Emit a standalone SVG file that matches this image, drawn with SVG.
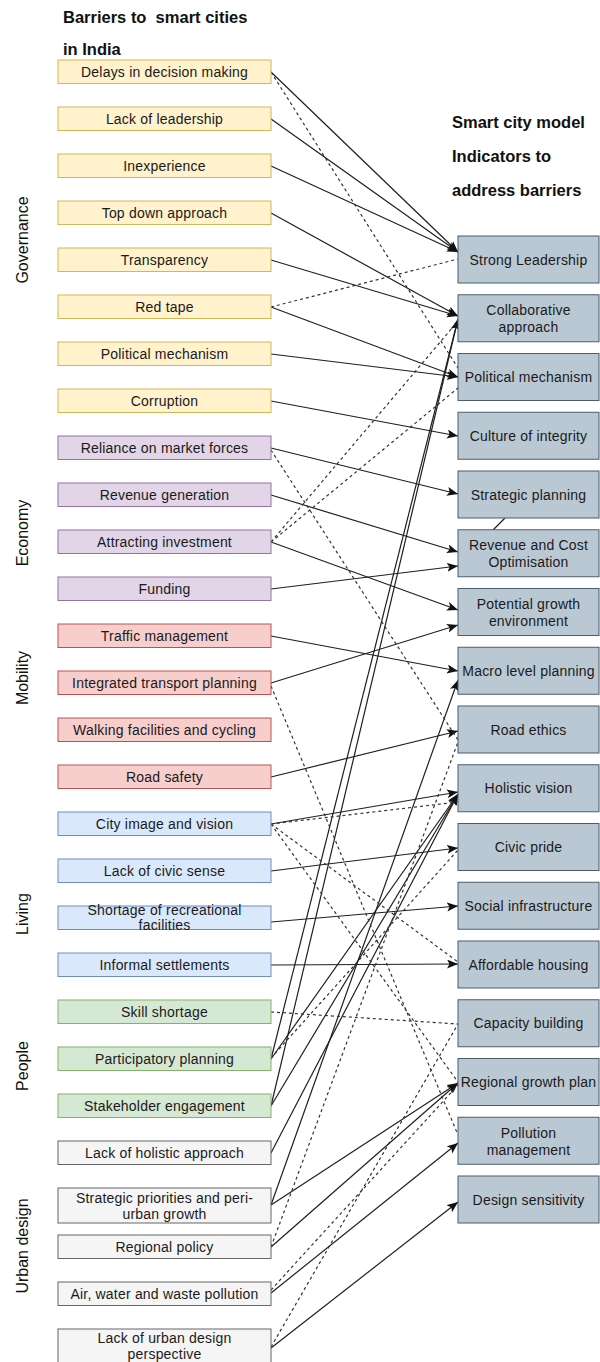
<svg xmlns="http://www.w3.org/2000/svg" width="600" height="1362" viewBox="0 0 600 1362">
  <style>
    .title { font-family: "Liberation Sans", Arial, sans-serif; font-weight: bold; font-size: 16.5px; fill: #111; white-space: pre; }
    .cat { font-family: "Liberation Sans", Arial, sans-serif; font-size: 16px; fill: #111; text-anchor: middle; }
    .lbl { font-family: "Liberation Sans", Arial, sans-serif; font-size: 14px; letter-spacing: 0.2px; fill: #1a1a1a; text-anchor: middle; }
    .gov { fill: #fff2cc; stroke: #d6b656; }
    .eco { fill: #e1d5e7; stroke: #9673a6; }
    .mob { fill: #f8cecc; stroke: #b85450; }
    .liv { fill: #dae8fc; stroke: #6c8ebf; }
    .ppl { fill: #d5e8d4; stroke: #82b366; }
    .urb { fill: #f5f5f5; stroke: #666666; }
    .ind { fill: #bac8d3; stroke: #4b5d6b; }
    rect { stroke-width: 1; }
    .solid { fill: none; stroke: #1f1f1f; stroke-width: 1.2; marker-end: url(#arrow); }
    .dash { fill: none; stroke: #333; stroke-width: 1.2; stroke-dasharray: 3 3; }
    .plain { fill: none; stroke: #1f1f1f; stroke-width: 1.2; }
  </style>
  <defs>
    <marker id="arrow" markerUnits="userSpaceOnUse" markerWidth="12" markerHeight="10" refX="11" refY="4.5" orient="auto">
      <path d="M0,0 L11,4.5 L0,9 L2.5,4.5 Z" fill="#111"/>
    </marker>
  </defs>
  <rect width="600" height="1362" fill="#ffffff"/>

  <!-- column headings -->
  <g id="headings">
    <text class="title" x="63" y="23">Barriers to  smart cities</text>
    <text class="title" x="63" y="55">in India</text>
    <text class="title" x="452" y="128">Smart city model</text>
    <text class="title" x="452" y="162">Indicators to</text>
    <text class="title" x="452" y="196">address barriers</text>
  </g>

  <!-- category labels -->
  <g id="categories">
    <text class="cat" transform="translate(28,240) rotate(-90)">Governance</text>
    <text class="cat" transform="translate(28,533) rotate(-90)">Economy</text>
    <text class="cat" transform="translate(28,678) rotate(-90)">Mobility</text>
    <text class="cat" transform="translate(28,914) rotate(-90)">Living</text>
    <text class="cat" transform="translate(28,1066) rotate(-90)">People</text>
    <text class="cat" transform="translate(28,1246) rotate(-90)">Urban design</text>
  </g>

  <!-- connectors -->
  <g id="connectors">
    <!-- solid links -->
    <line class="solid" x1="271" y1="72" x2="458" y2="252"/>
    <line class="solid" x1="271" y1="119" x2="458" y2="252"/>
    <line class="solid" x1="271" y1="166" x2="458" y2="252"/>
    <line class="solid" x1="271" y1="213" x2="458" y2="316"/>
    <line class="solid" x1="271" y1="260" x2="458" y2="316"/>
    <line class="solid" x1="271" y1="307" x2="458" y2="377"/>
    <line class="solid" x1="271" y1="354" x2="458" y2="377"/>
    <line class="solid" x1="271" y1="401" x2="458" y2="436"/>
    <line class="solid" x1="271" y1="448" x2="458" y2="494"/>
    <line class="solid" x1="271" y1="495" x2="458" y2="552"/>
    <line class="solid" x1="271" y1="589" x2="458" y2="566"/>
    <line class="solid" x1="271" y1="542" x2="458" y2="610"/>
    <line class="solid" x1="271" y1="683" x2="458" y2="625"/>
    <line class="solid" x1="271" y1="636" x2="458" y2="671"/>
    <line class="solid" x1="271" y1="1205" x2="458" y2="680"/>
    <line class="solid" x1="271" y1="777" x2="458" y2="731"/>
    <line class="solid" x1="271" y1="824" x2="458" y2="792"/>
    <line class="solid" x1="271" y1="1059" x2="458" y2="794"/>
    <line class="solid" x1="271" y1="1106" x2="458" y2="794"/>
    <line class="solid" x1="271" y1="1153" x2="458" y2="794"/>
    <line class="solid" x1="271" y1="1059" x2="458" y2="319"/>
    <line class="solid" x1="271" y1="1106" x2="458" y2="319"/>
    <line class="solid" x1="271" y1="871" x2="458" y2="848"/>
    <line class="solid" x1="271" y1="922" x2="458" y2="906"/>
    <line class="solid" x1="271" y1="965" x2="458" y2="964"/>
    <line class="solid" x1="271" y1="1205" x2="458" y2="1083"/>
    <line class="solid" x1="271" y1="1247" x2="458" y2="1083"/>
    <line class="solid" x1="271" y1="1293" x2="458" y2="1143"/>
    <line class="solid" x1="271" y1="1348" x2="458" y2="1202"/>
    <line class="plain" x1="493" y1="530" x2="505" y2="518"/>
    <!-- dashed links -->
    <line class="dash" x1="271" y1="72" x2="458" y2="368"/>
    <line class="dash" x1="271" y1="307" x2="458" y2="259"/>
    <line class="dash" x1="271" y1="542" x2="458" y2="321"/>
    <line class="dash" x1="271" y1="542" x2="458" y2="388"/>
    <line class="dash" x1="271" y1="450" x2="458" y2="740"/>
    <line class="dash" x1="271" y1="686" x2="458" y2="1135"/>
    <line class="dash" x1="271" y1="1247" x2="458" y2="742"/>
    <line class="dash" x1="271" y1="824" x2="458" y2="802"/>
    <line class="dash" x1="271" y1="824" x2="458" y2="962"/>
    <line class="dash" x1="271" y1="824" x2="458" y2="1082"/>
    <line class="dash" x1="271" y1="1058" x2="458" y2="850"/>
    <line class="dash" x1="271" y1="1012" x2="458" y2="1024"/>
    <line class="dash" x1="271" y1="1347" x2="458" y2="1024"/>
    <line class="dash" x1="271" y1="1290" x2="458" y2="1085"/>
  </g>

  <!-- barrier nodes -->
  <g id="b-delays"><rect class="gov" x="58" y="60" width="213" height="23.5"/><text class="lbl" x="164.5" y="77">Delays in decision making</text></g>
  <g id="b-leadership"><rect class="gov" x="58" y="107" width="213" height="23.5"/><text class="lbl" x="164.5" y="124">Lack of leadership</text></g>
  <g id="b-inexperience"><rect class="gov" x="58" y="154" width="213" height="23.5"/><text class="lbl" x="164.5" y="171">Inexperience</text></g>
  <g id="b-topdown"><rect class="gov" x="58" y="201" width="213" height="23.5"/><text class="lbl" x="164.5" y="218">Top down approach</text></g>
  <g id="b-transparency"><rect class="gov" x="58" y="248" width="213" height="23.5"/><text class="lbl" x="164.5" y="265">Transparency</text></g>
  <g id="b-redtape"><rect class="gov" x="58" y="295" width="213" height="23.5"/><text class="lbl" x="164.5" y="312">Red tape</text></g>
  <g id="b-political"><rect class="gov" x="58" y="342" width="213" height="23.5"/><text class="lbl" x="164.5" y="359">Political mechanism</text></g>
  <g id="b-corruption"><rect class="gov" x="58" y="389" width="213" height="23.5"/><text class="lbl" x="164.5" y="406">Corruption</text></g>
  <g id="b-market"><rect class="eco" x="58" y="436" width="213" height="23.5"/><text class="lbl" x="164.5" y="453">Reliance on market forces</text></g>
  <g id="b-revenue"><rect class="eco" x="58" y="483" width="213" height="23.5"/><text class="lbl" x="164.5" y="500">Revenue generation</text></g>
  <g id="b-investment"><rect class="eco" x="58" y="530" width="213" height="23.5"/><text class="lbl" x="164.5" y="547">Attracting investment</text></g>
  <g id="b-funding"><rect class="eco" x="58" y="577" width="213" height="23.5"/><text class="lbl" x="164.5" y="594">Funding</text></g>
  <g id="b-traffic"><rect class="mob" x="58" y="624" width="213" height="23.5"/><text class="lbl" x="164.5" y="641">Traffic management</text></g>
  <g id="b-transport"><rect class="mob" x="58" y="671" width="213" height="23.5"/><text class="lbl" x="164.5" y="688">Integrated transport planning</text></g>
  <g id="b-walking"><rect class="mob" x="58" y="718" width="213" height="23.5"/><text class="lbl" x="164.5" y="735">Walking facilities and cycling</text></g>
  <g id="b-roadsafety"><rect class="mob" x="58" y="765" width="213" height="23.5"/><text class="lbl" x="164.5" y="782">Road safety</text></g>
  <g id="b-cityimage"><rect class="liv" x="58" y="812" width="213" height="23.5"/><text class="lbl" x="164.5" y="829">City image and vision</text></g>
  <g id="b-civicsense"><rect class="liv" x="58" y="859" width="213" height="23.5"/><text class="lbl" x="164.5" y="876">Lack of civic sense</text></g>
  <g id="b-recreation"><rect class="liv" x="58" y="906" width="213" height="23.5"/><text class="lbl" x="164.5" y="915">Shortage of recreational</text><text class="lbl" x="164.5" y="930">facilities</text></g>
  <g id="b-informal"><rect class="liv" x="58" y="953" width="213" height="23.5"/><text class="lbl" x="164.5" y="970">Informal settlements</text></g>
  <g id="b-skill"><rect class="ppl" x="58" y="1000" width="213" height="23.5"/><text class="lbl" x="164.5" y="1017">Skill shortage</text></g>
  <g id="b-participatory"><rect class="ppl" x="58" y="1047" width="213" height="23.5"/><text class="lbl" x="164.5" y="1064">Participatory planning</text></g>
  <g id="b-stakeholder"><rect class="ppl" x="58" y="1094" width="213" height="23.5"/><text class="lbl" x="164.5" y="1111">Stakeholder engagement</text></g>
  <g id="b-holistic"><rect class="urb" x="58" y="1141" width="213" height="23.5"/><text class="lbl" x="164.5" y="1158">Lack of holistic approach</text></g>
  <g id="b-strategic"><rect class="urb" x="58" y="1188" width="213" height="35"/><text class="lbl" x="164.5" y="1203">Strategic priorities and peri-</text><text class="lbl" x="164.5" y="1219">urban growth</text></g>
  <g id="b-regional"><rect class="urb" x="58" y="1235" width="213" height="23.5"/><text class="lbl" x="164.5" y="1252">Regional policy</text></g>
  <g id="b-pollution"><rect class="urb" x="58" y="1282" width="213" height="23.5"/><text class="lbl" x="164.5" y="1299">Air, water and waste pollution</text></g>
  <g id="b-urbandesign"><rect class="urb" x="58" y="1329" width="213" height="35"/><text class="lbl" x="164.5" y="1343">Lack of urban design</text><text class="lbl" x="164.5" y="1359">perspective</text></g>

  <!-- indicator nodes -->
  <g id="i-leadership"><rect class="ind" x="458" y="236" width="141" height="47"/><text class="lbl" x="528.5" y="264.5">Strong Leadership</text></g>
  <g id="i-collaborative"><rect class="ind" x="458" y="294.75" width="141" height="47"/><text class="lbl" x="528.5" y="315">Collaborative</text><text class="lbl" x="528.5" y="332">approach</text></g>
  <g id="i-political"><rect class="ind" x="458" y="353.5" width="141" height="47"/><text class="lbl" x="528.5" y="382">Political mechanism</text></g>
  <g id="i-integrity"><rect class="ind" x="458" y="412.25" width="141" height="47"/><text class="lbl" x="528.5" y="441">Culture of integrity</text></g>
  <g id="i-strategic"><rect class="ind" x="458" y="471" width="141" height="47"/><text class="lbl" x="528.5" y="499.5">Strategic planning</text></g>
  <g id="i-revenue"><rect class="ind" x="458" y="529.75" width="141" height="47"/><text class="lbl" x="528.5" y="550">Revenue and Cost</text><text class="lbl" x="528.5" y="567">Optimisation</text></g>
  <g id="i-growth"><rect class="ind" x="458" y="588.5" width="141" height="47"/><text class="lbl" x="528.5" y="609">Potential growth</text><text class="lbl" x="528.5" y="626">environment</text></g>
  <g id="i-macro"><rect class="ind" x="458" y="647.25" width="141" height="47"/><text class="lbl" x="528.5" y="676">Macro level planning</text></g>
  <g id="i-roadethics"><rect class="ind" x="458" y="706" width="141" height="47"/><text class="lbl" x="528.5" y="734.5">Road ethics</text></g>
  <g id="i-vision"><rect class="ind" x="458" y="764.75" width="141" height="47"/><text class="lbl" x="528.5" y="793">Holistic vision</text></g>
  <g id="i-civicpride"><rect class="ind" x="458" y="823.5" width="141" height="47"/><text class="lbl" x="528.5" y="852">Civic pride</text></g>
  <g id="i-social"><rect class="ind" x="458" y="882.25" width="141" height="47"/><text class="lbl" x="528.5" y="911">Social infrastructure</text></g>
  <g id="i-housing"><rect class="ind" x="458" y="941" width="141" height="47"/><text class="lbl" x="528.5" y="969.5">Affordable housing</text></g>
  <g id="i-capacity"><rect class="ind" x="458" y="999.75" width="141" height="47"/><text class="lbl" x="528.5" y="1028">Capacity building</text></g>
  <g id="i-regional"><rect class="ind" x="458" y="1058.5" width="141" height="47"/><text class="lbl" x="528.5" y="1087">Regional growth plan</text></g>
  <g id="i-pollution"><rect class="ind" x="458" y="1117.25" width="141" height="47"/><text class="lbl" x="528.5" y="1137.5">Pollution</text><text class="lbl" x="528.5" y="1154.5">management</text></g>
  <g id="i-design"><rect class="ind" x="458" y="1176" width="141" height="47"/><text class="lbl" x="528.5" y="1204.5">Design sensitivity</text></g>
</svg>
